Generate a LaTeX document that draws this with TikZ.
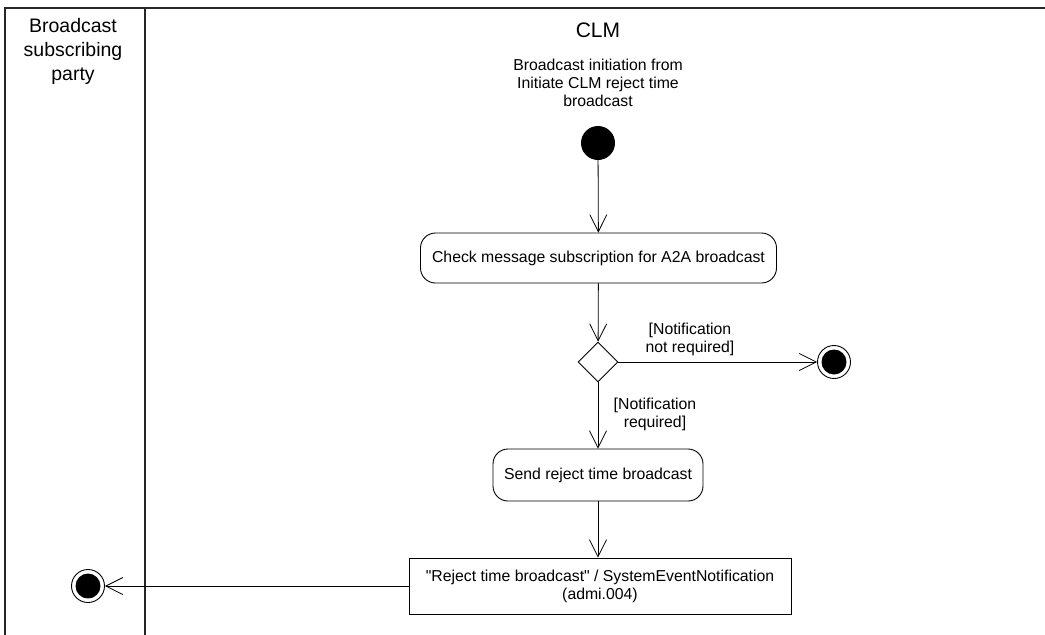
\documentclass[tikz,border=0pt]{standalone}
\usepackage{fontspec}
\setmainfont{Liberation Sans}
\usetikzlibrary{arrows.meta,shapes.geometric}
\begin{document}
\begin{tikzpicture}[x=1pt,y=-1pt,
  every node/.style={font=\fontsize{15.8}{18}\selectfont},
  frameline/.style={line width=1.1pt,draw=black!85},
  conn/.style={draw, line width=0.8pt, -{Straight Barb[length=17pt,width=17pt,line width=0.8pt]}},
  action/.style={draw, line width=0.9pt, rounded corners=15pt, minimum height=50pt, align=center, inner sep=0pt},
  sendbox/.style={draw, line width=0.9pt, minimum height=56pt, align=center, inner sep=0pt},
  startnode/.style={circle, fill=black, minimum size=34pt, inner sep=0pt},
  endnode/.style={circle, draw, line width=0.9pt, fill=white, minimum size=33pt, inner sep=0pt},
  decision/.style={diamond, draw, line width=0.9pt, minimum width=40pt, minimum height=40pt, inner sep=0pt},
  guard/.style={align=center, inner sep=0pt}
]
\useasboundingbox (0,0) rectangle (1045,635);
% frame
\draw[frameline] (1045,8) -- (5,8) -- (5,635);
\draw[frameline] (145,8) -- (145,635);
% lane headers
\node[align=center, font=\fontsize{19.5}{24}\selectfont] (lane1) at (73,51.5) {Broadcast\\subscribing\\party};
\node[font=\fontsize{21}{24}\selectfont] (lane2) at (598,30) {CLM};
\node[align=center, inner sep=0pt] (cap) at (598,83) {Broadcast initiation from\\Initiate CLM reject time\\broadcast};
% nodes
\node[startnode] (start) at (598,143) {};
\node[action, minimum width=356pt] (check) at (598.5,258) {Check message subscription for A2A broadcast};
\node[decision] (dec) at (598,362) {};
\node[endnode] (end1) at (834,362) {};
\fill (end1) circle (12.5pt);
\node[action, minimum width=210pt, minimum height=52pt] (send) at (598,475) {Send reject time broadcast};
\node[sendbox, minimum width=382pt] (sig) at (600,586) {\textquotedbl Reject time broadcast\textquotedbl{} / SystemEventNotification\\(admi.004)};
\node[endnode] (end2) at (88,586) {};
\fill (end2) circle (12.5pt);
% connectors
\draw[conn] (start) -- (check);
\draw[conn] (check) -- (dec);
\draw[conn] (dec) -- (end1);
\draw[conn] (dec) -- (send);
\draw[conn] (send.south) -- (send.south |- sig.north);
\draw[conn] (sig) -- (end2);
% guards
\node[guard] (g1) at (690,339) {[Notification\\not required]};
\node[guard] (g2) at (655,414) {[Notification\\required]};
\end{tikzpicture}
\end{document}
